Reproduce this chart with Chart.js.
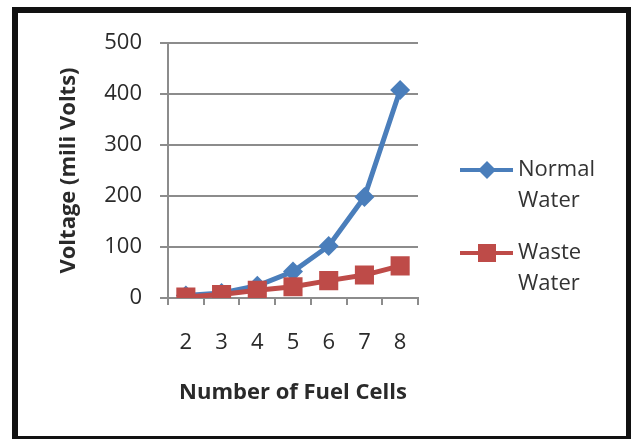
<!DOCTYPE html>
<html>
<head>
<meta charset="utf-8">
<script src="https://cdn.jsdelivr.net/npm/chart.js@4.4.1/dist/chart.umd.min.js"></script>
<style>
  html, body { margin: 0; padding: 0; background: #fff; }
  #wrap { position: absolute; left: 0; top: 0; width: 632px; height: 439px; }
  #frame {
    position: absolute; left: 12px; top: 7px; width: 608px; height: 423px;
    border-style: solid; border-color: #111;
    border-width: 6px 5px 3px 6px;
    pointer-events: none;
  }
</style>
</head>
<body>
<div id="wrap"><canvas id="canvas"></canvas></div>
<div id="frame"></div>
<script>
// values
var cells = ['2', '3', '4', '5', '6', '7', '8'];
var normalWater = [5, 10, 24, 52, 102, 198, 408];
var wasteWater = [2, 7, 15, 22, 34, 45, 63];
var yTicks = [0, 100, 200, 300, 400, 500];

var blue = '#4a7ebb';
var red = '#be4b48';
var textFont = '"Open Sans", "DejaVu Sans", sans-serif';

// legend drawn by hand so each label can wrap onto two lines like the original
var sideLegend = {
  id: 'sideLegend',
  afterDraw: function(chart) {
    var ctx = chart.ctx;
    var rows = [170, 253];
    ctx.save();
    chart.data.datasets.forEach(function(ds, i) {
      var y = rows[i];
      ctx.strokeStyle = ds.borderColor;
      ctx.lineWidth = 4;
      ctx.beginPath();
      ctx.moveTo(460, y);
      ctx.lineTo(513, y);
      ctx.stroke();
      ctx.fillStyle = ds.backgroundColor;
      if (ds.pointStyle === 'rect') {
        ctx.fillRect(478, y - 9, 18, 18);
      } else {
        ctx.beginPath();
        ctx.moveTo(487, y - 9);
        ctx.lineTo(496, y);
        ctx.lineTo(487, y + 9);
        ctx.lineTo(478, y);
        ctx.closePath();
        ctx.fill();
      }
      ctx.fillStyle = '#333';
      ctx.font = '22px ' + textFont;
      ctx.textBaseline = 'middle';
      ctx.textAlign = 'left';
      ds.label.split(' ').forEach(function(word, j) {
        ctx.fillText(word, 518, y + j * 31);
      });
    });
    ctx.restore();
  }
};

var ctx = document.getElementById('canvas').getContext('2d');
window.my_chart = new Chart(ctx, {
  type: 'line',
  data: {
    labels: cells,
    datasets: [{
      label: 'Normal Water',
      data: normalWater,
      borderColor: blue,
      backgroundColor: blue,
      borderWidth: 5,
      pointStyle: 'rectRot',
      pointRadius: 10,
      pointBorderWidth: 0,
      tension: 0,
      order: 1
    }, {
      label: 'Waste Water',
      data: wasteWater,
      borderColor: red,
      backgroundColor: red,
      borderWidth: 5,
      pointStyle: 'rect',
      pointRadius: 13.5,
      pointBorderWidth: 0,
      tension: 0,
      order: 0
    }]
  },
  plugins: [sideLegend],
  options: {
    responsive: true,
    maintainAspectRatio: false,
    animation: false,
    layout: { padding: { left: 0, top: 43, right: 214, bottom: 0 } },
    plugins: {
      legend: { display: false },
      tooltip: { enabled: false }
    },
    scales: {
      x: {
        offset: true,
        grid: {
          offset: true,
          drawOnChartArea: false,
          drawTicks: true,
          tickLength: 7,
          color: '#8c8c8c',
          lineWidth: 2
        },
        border: { color: '#8c8c8c', width: 2 },
        ticks: {
          color: '#2a2a2a',
          padding: 25,
          font: { family: textFont, size: 22 }
        },
        title: {
          display: true,
          text: 'Number of Fuel Cells',
          color: '#2a2a2a',
          padding: { top: 0, bottom: 33 },
          font: { family: textFont, size: 22, weight: 'bold' }
        },
        afterFit: function(scale) { scale.height = 141; }
      },
      y: {
        min: 0,
        max: 500,
        afterBuildTicks: function(scale) {
          scale.ticks = yTicks.map(function(v) { return { value: v }; });
        },
        grid: {
          color: '#8c8c8c',
          lineWidth: 2,
          tickLength: 8
        },
        border: { color: '#8c8c8c', width: 2 },
        ticks: {
          color: '#2a2a2a',
          padding: 18,
          font: { family: textFont, size: 22 }
        },
        title: {
          display: true,
          text: 'Voltage (mili Volts)',
          color: '#2a2a2a',
          padding: { top: 56, bottom: 0 },
          font: { family: textFont, size: 22, weight: 'bold' }
        },
        afterFit: function(scale) { scale.width = 168; }
      }
    }
  }
});
</script>
</body>
</html>
